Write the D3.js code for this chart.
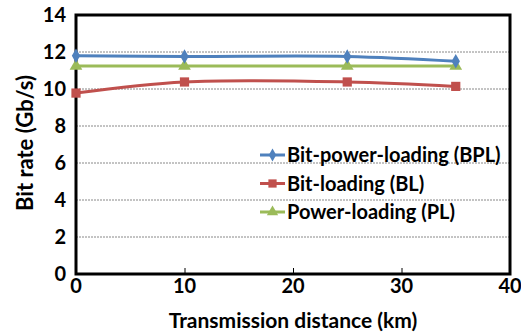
<!DOCTYPE html>
<html>
<head>
<meta charset="utf-8">
<script src="https://cdn.jsdelivr.net/npm/d3@7"></script>
<style>
  body { margin: 0; background: #fff; }
  text { font-family: Lato, "Open Sans", sans-serif; font-weight: bold; fill: #000; }
</style>
</head>
<body>
<div class="container"></div>
<script>
const distances = [0, 10, 25, 35];
const bplValues = [11.8, 11.76, 11.76, 11.5];
const blValues = [9.78, 10.38, 10.38, 10.14];
const plValues = [11.24, 11.24, 11.24, 11.24];
const seriesNames = ['Bit-power-loading (BPL)', 'Bit-loading (BL)', 'Power-loading (PL)'];
const yTicks = [0, 2, 4, 6, 8, 10, 12, 14];
const xTicks = [0, 10, 20, 30, 40];

const W = 521, H = 333;
const margin = { top: 15, bottom: 59, left: 76, right: 11 };
const width = W - margin.left - margin.right;
const height = H - margin.top - margin.bottom;

const svg = d3.select('.container')
    .append('svg')
    .attr('width', W)
    .attr('height', H);

const G = svg.append('g')
    .attr('transform', 'translate(' + margin.left + ',' + margin.top + ')');

const x = d3.scaleLinear().domain([0, 40]).range([0, width]);
const y = d3.scaleLinear().domain([0, 14]).range([height, 0]);

// grid
G.selectAll('.grid')
    .data(yTicks.filter(d => d > 0 && d < 14))
    .join('line')
    .attr('x1', 0).attr('x2', width)
    .attr('y1', d => y(d)).attr('y2', d => y(d))
    .style('stroke', '#888')
    .style('stroke-width', 1)
    .style('stroke-dasharray', '2,1');

// x axis ticks inside
G.append('g')
    .attr('transform', 'translate(0,' + height + ')')
    .call(d3.axisBottom(x).tickValues(xTicks).tickSize(-6).tickSizeOuter(0).tickFormat(''))
    .call(g => g.select('.domain').remove())
    .selectAll('line').style('stroke', '#000').style('stroke-width', 1);

// tick labels
G.selectAll('.xlab')
    .data(xTicks)
    .join('text')
    .attr('x', d => x(d))
    .attr('y', height + 19)
    .attr('text-anchor', 'middle')
    .style('font-size', '20px')
    .text(d => d);

G.selectAll('.ylab')
    .data(yTicks)
    .join('text')
    .attr('x', -10)
    .attr('y', d => y(d) + 7)
    .attr('text-anchor', 'end')
    .style('font-size', '20px')
    .text(d => d);

// frame
G.append('rect')
    .attr('x', 0).attr('y', 0)
    .attr('width', width).attr('height', height)
    .style('fill', 'none')
    .style('stroke', '#000')
    .style('stroke-width', 3);

const series = [
    { name: seriesNames[0], values: bplValues, color: '#4F81BD', shape: d3.symbolDiamond, size: 60 },
    { name: seriesNames[1], values: blValues, color: '#C0504D', shape: d3.symbolSquare, size: 85 },
    { name: seriesNames[2], values: plValues, color: '#9BBB59', shape: d3.symbolTriangle, size: 70 }
];

const line = d3.line()
    .x((d, i) => x(distances[i]))
    .y(d => y(d))
    .curve(d3.curveCatmullRom.alpha(0.5));

// draw PL first, then BL, then BPL on top
[series[2], series[1], series[0]].forEach(s => {
    G.append('path')
        .datum(s.values)
        .attr('d', line)
        .style('fill', 'none')
        .style('stroke', s.color)
        .style('stroke-width', 3);
    G.selectAll(null)
        .data(s.values)
        .join('path')
        .attr('transform', (d, i) => 'translate(' + x(distances[i]) + ',' + y(d) + ')')
        .attr('d', d3.symbol().type(s.shape).size(s.size))
        .style('fill', s.color);
});

// legend
const legend = svg.append('g').attr('transform', 'translate(260,155)');
series.forEach((s, i) => {
    const row = legend.append('g').attr('transform', 'translate(0,' + i * 28.5 + ')');
    row.append('line')
        .attr('x1', 0).attr('x2', 25)
        .style('stroke', s.color)
        .style('stroke-width', 3);
    row.append('path')
        .attr('transform', 'translate(12.5,0)')
        .attr('d', d3.symbol().type(s.shape).size(s.size * 0.8))
        .style('fill', s.color);
    row.append('text')
        .attr('x', 27)
        .attr('y', 7)
        .style('font-size', '20px')
        .text(s.name);
});

// axis titles
svg.append('text')
    .attr('x', 293)
    .attr('y', 328)
    .attr('text-anchor', 'middle')
    .style('font-size', '21px')
    .text('Transmission distance (km)');

svg.append('text')
    .attr('transform', 'translate(33,143) rotate(-90)')
    .attr('text-anchor', 'middle')
    .style('font-size', '22px')
    .text('Bit rate (Gb/s)');
</script>
</body>
</html>
